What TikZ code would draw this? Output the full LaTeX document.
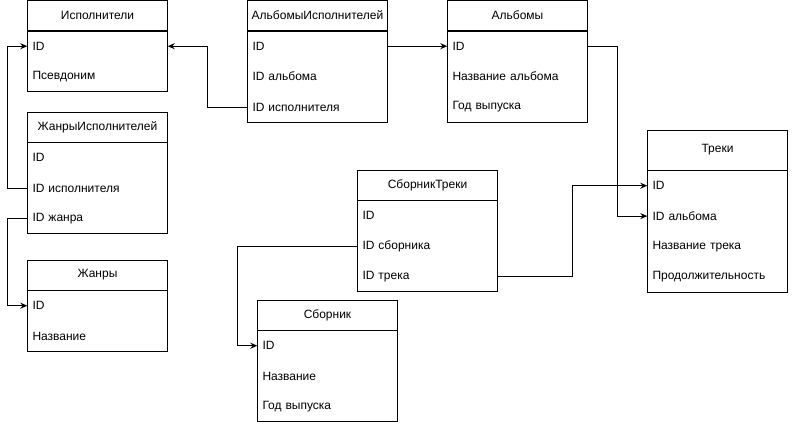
\documentclass[tikz,border=0pt]{standalone}
\usepackage{fontspec}
\setmainfont{Liberation Sans}
\usetikzlibrary{arrows.meta,positioning,fit}

\begin{document}
\begin{tikzpicture}[x=1pt,y=-1pt,
font=\fontsize{12}{14}\selectfont,
head/.style={draw,line width=1pt,minimum width=140pt,minimum height=30pt,inner sep=0pt,anchor=north west},
row/.style={minimum height=30pt,text width=130pt,inner xsep=5pt,inner ysep=0pt,align=left},
body/.style={draw,line width=1pt,inner sep=0pt},
link/.style={-{Stealth[length=7pt,width=6pt]},line width=1pt}
]
\useasboundingbox (0,1.5) rectangle (798,422.5);
% Исполнители
\node[head] (i0) at (27,1.5) {Исполнители};
\node[row,below=0pt of i0] (i1) {ID};
\node[row,below=0pt of i1] (i2) {Псевдоним};
\node[body,fit=(i1)(i2)] (ib) {};
% АльбомыИсполнителей
\node[head] (ai0) at (247,1.5) {АльбомыИсполнителей};
\node[row,below=0pt of ai0] (ai1) {ID};
\node[row,below=0pt of ai1] (ai2) {ID альбома};
\node[row,below=0pt of ai2] (ai3) {ID исполнителя};
\node[body,fit=(ai1)(ai3)] (aib) {};
% Альбомы
\node[head] (a0) at (447,1.5) {Альбомы};
\node[row,below=0pt of a0] (a1) {ID};
\node[row,below=0pt of a1] (a2) {Название альбома};
\node[row,below=0pt of a2] (a3) {Год выпуска};
\node[body,fit=(a1)(a3)] (ab) {};
% ЖанрыИсполнителей
\node[head] (zi0) at (27,113) {ЖанрыИсполнителей};
\node[row,below=0pt of zi0] (zi1) {ID};
\node[row,below=0pt of zi1] (zi2) {ID исполнителя};
\node[row,below=0pt of zi2] (zi3) {ID жанра};
\node[body,fit=(zi1)(zi3)] (zib) {};
% Жанры
\node[head] (z0) at (27,261) {Жанры};
\node[row,below=0pt of z0] (z1) {ID};
\node[row,below=0pt of z1] (z2) {Название};
\node[body,fit=(z1)(z2)] (zb) {};
% Треки
\node[head,minimum height=40pt] (t0) at (647,131) {Треки};
\node[row,below=0pt of t0] (t1) {ID};
\node[row,below=0pt of t1] (t2) {ID альбома};
\node[row,below=0pt of t2] (t3) {Название трека};
\node[row,below=0pt of t3] (t4) {Продолжительность};
\node[body,fit=(t1)(t4)] (tb) {};
% СборникТреки
\node[head] (st0) at (357,171) {СборникТреки};
\node[row,below=0pt of st0] (st1) {ID};
\node[row,below=0pt of st1] (st2) {ID сборника};
\node[row,below=0pt of st2] (st3) {ID трека};
\node[body,fit=(st1)(st3)] (stb) {};
% Сборник
\node[head] (s0) at (257,301) {Сборник};
\node[row,below=0pt of s0] (s1) {ID};
\node[row,below=0pt of s1] (s2) {Название};
\node[row,below=0pt of s2] (s3) {Год выпуска};
\node[body,fit=(s1)(s3)] (sb) {};
% связи
\draw[link] (ai3.west) -- ++(-40,0) |- (i1.east);
\draw[link] (ai1.east) -- (a1.west);
\draw[link] (zi2.west) -- ++(-20,0) |- (i1.west);
\draw[link] (zi3.west) -- ++(-20,0) |- (z1.west);
\draw[link] (a1.east) -- ++(30,0) |- (t2.west);
\draw[link] (st3.east) -- ++(75,0) |- (t1.west);
\draw[link] (st2.west) -- ++(-120,0) |- (s1.west);
\end{tikzpicture}
\end{document}
